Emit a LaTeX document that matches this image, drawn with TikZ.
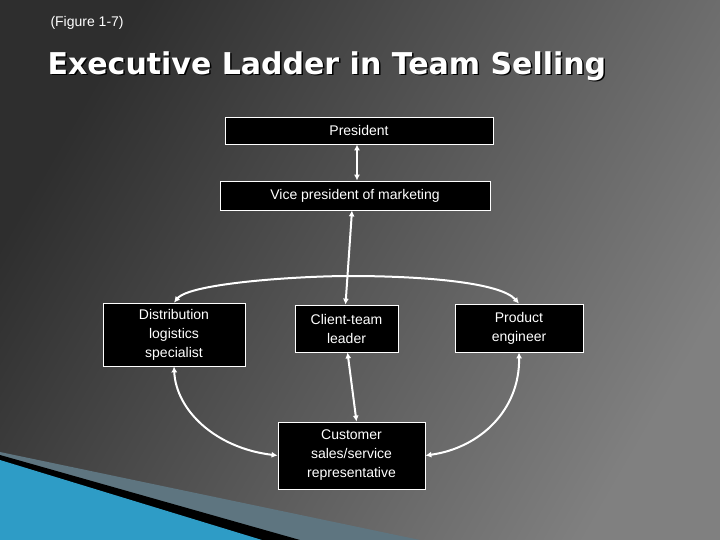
\documentclass[tikz,border=0pt]{standalone}
\usepackage{fontspec}
\setmainfont{Liberation Sans}
\newfontfamily\titlefont{DejaVu Sans}
\usetikzlibrary{arrows.meta}
\definecolor{blu}{HTML}{2E9CC6}
\definecolor{gband}{HTML}{5E7580}
\begin{document}
\begin{tikzpicture}[x=1pt,y=-1pt,
  bx/.style={draw=white,fill=black,text=white,line width=0.8pt,align=center,inner sep=0pt,font=\fontsize{14}{19}\selectfont},
  con/.style={draw=white,line width=2pt,{Latex[length=6pt,width=6pt]}-{Latex[length=6pt,width=6pt]}}]
\useasboundingbox (0,0) rectangle (720,540);
\shade[left color=black!82, right color=black!50, shading angle=60] (0,0) rectangle (720,540);
\fill[gband] (0,452) -- (420,540) -- (0,540) -- cycle;
\fill[black] (0,455) -- (300,540) -- (0,540) -- cycle;
\fill[blu] (0,460) -- (262,540) -- (0,540) -- cycle;
\node[anchor=west,text=white,font=\fontsize{14}{16}\selectfont] (fig) at (47,23) {(Figure 1-7)};
\node[anchor=west,text=black,font=\titlefont\bfseries\fontsize{30}{34}\selectfont] (tsh) at (45.5,67.5) {Executive Ladder in Team Selling};
\node[anchor=west,text=white,font=\titlefont\bfseries\fontsize{30}{34}\selectfont] (t) at (44,66) {Executive Ladder in Team Selling};
\node[bx,minimum width=268pt,minimum height=27pt] (pres) at (359,130.5) {President};
\node[bx,minimum width=270pt,minimum height=29pt] (vp) at (355,195.5) {Vice president of marketing};
\node[bx,minimum width=142pt,minimum height=63pt] (dist) at (174,334.5) {Distribution\\logistics\\specialist};
\node[bx,minimum width=103pt,minimum height=47pt] (cl) at (346.5,328.5) {Client-team\\leader};
\node[bx,minimum width=128pt,minimum height=48pt] (pe) at (519,328) {Product\\engineer};
\node[bx,minimum width=147pt,minimum height=67pt] (cu) at (351.5,455.5) {Customer\\sales/service\\representative};
\draw[con] (pres.south) ++(-2,0) coordinate (p1) (p1) -- (vp.north -| p1);
\draw[con] ([xshift=-3pt]vp.south) -- ([xshift=-1pt]cl.north);
\draw[con] (dist.north) .. controls (190,283) and (300,276) .. (350,276) .. controls (420,276) and (500,282) .. (pe.north);
\draw[con] ([xshift=1pt]cl.south) -- ([xshift=5pt]cu.north);
\draw[con] (dist.south) .. controls (176,410) and (215,448) .. (cu.west);
\draw[con] (pe.south) .. controls (520,410) and (480,448) .. (cu.east);
\end{tikzpicture}
\end{document}
